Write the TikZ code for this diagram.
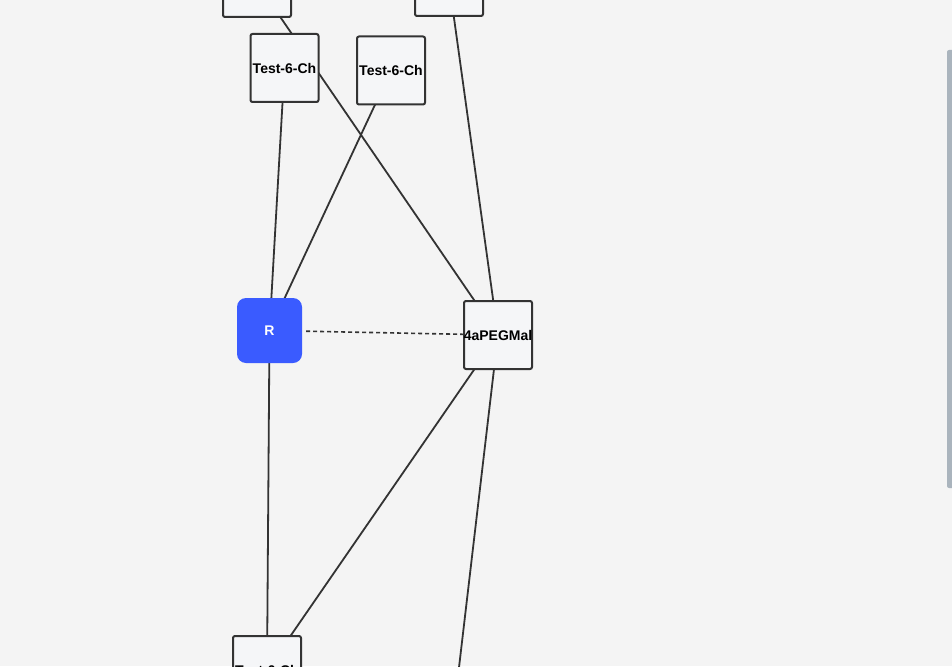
\documentclass[tikz,border=0pt]{standalone}
\usepackage{fontspec}
\setmainfont{Liberation Sans}
\usetikzlibrary{positioning, backgrounds}
\pgfdeclarelayer{edges}
\pgfsetlayers{background,edges,main}
\definecolor{bgc}{RGB}{244,244,244}
\definecolor{boxc}{RGB}{245,246,248}
\definecolor{linec}{RGB}{51,51,51}
\definecolor{rblue}{RGB}{58,91,255}
\definecolor{barc}{RGB}{170,180,189}

\begin{document}
\begin{tikzpicture}[x=1pt, y=-1pt,
  txt/.style={font=\fontsize{14}{16}\selectfont\bfseries, inner sep=0pt},
  chbox/.style={draw=linec, fill=boxc, line width=2pt, rounded corners=2pt, minimum size=68pt, inner sep=0pt, label={[txt]center:#1}},
  chbox/.default={},
  rbox/.style={fill=rblue, rounded corners=9pt, minimum size=65pt, inner sep=0pt, text=white, txt},
  link/.style={draw=linec, line width=1.8pt},
]
\begin{pgfonlayer}{background}
\fill[bgc] (0,0) rectangle (952,666);
\end{pgfonlayer}
\useasboundingbox (0,0) rectangle (952,666);

\node[chbox] (tl) at (257,-17) {};
\node[chbox] (tr) at (449,-18) {};
\node[chbox=Test-6-Ch] (ch1) at (284.5,68) {};
\node[chbox=Test-6-Ch] (ch2) at (391,70.5) {};
\node[rbox] (r) at (269.5,330.5) {R};
\node[chbox=4aPEGMal] (peg) at (498,335) {};
\node[chbox=Test-6-Ch] (ch3) at (267,670) {};
\node[chbox] (br) at (454,710) {};

\begin{pgfonlayer}{edges}
\draw[link] (tl.center) -- (peg.center);
\draw[link] (tr.center) -- (peg.center);
\draw[link] (ch1.center) -- (r.center);
\draw[link] (ch2.center) -- (r.center);
\draw[link] (r.center) -- (ch3.center);
\draw[link] (peg.center) -- (ch3.center);
\draw[link] (peg.center) -- (br.center);
\draw[link, line width=1.6pt, dash pattern=on 4pt off 3pt, shorten <=4pt] (r) -- (peg);
\end{pgfonlayer}

% scrollbar
\fill[barc, rounded corners=2pt] (947,50) rectangle (954,488);
\end{tikzpicture}
\end{document}
